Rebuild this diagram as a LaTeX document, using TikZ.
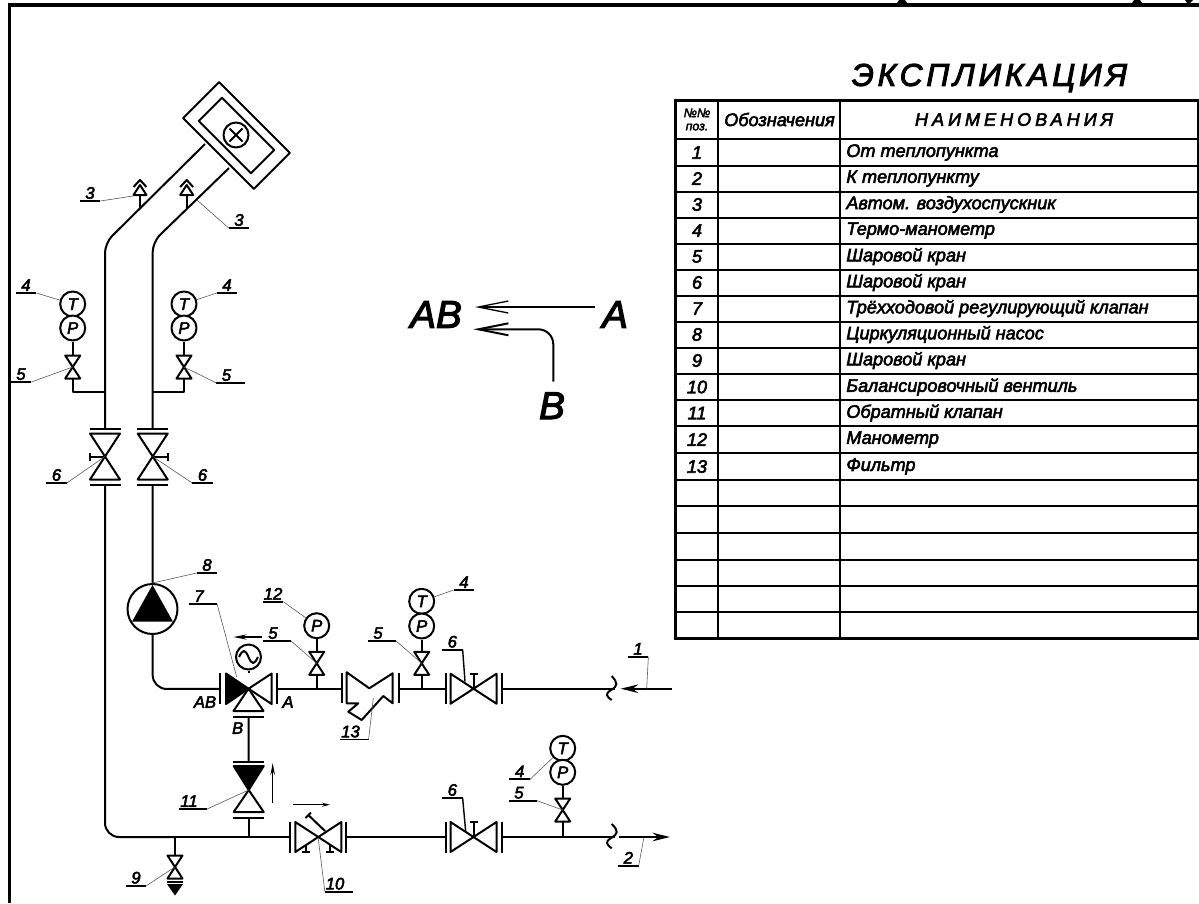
\documentclass[tikz,border=0pt]{standalone}
\usepackage{fontspec}
\setmainfont{Liberation Sans}[ItalicFeatures={FakeBold=3}]
\usetikzlibrary{arrows.meta}
\tikzset{
	flanged/.pic={
		\fill[white] (-28,-15) rectangle (28,15);
		\draw[pipe] (-28,-15.5) -- (-28,15.5) (28,-15.5) -- (28,15.5);
		\draw[pipe] (-23,-15) -- (23,15) -- (23,-15) -- (-23,15) -- cycle;
	},
	spindle/.pic={
		\draw[pipe] (0,0) -- (0,-15) (-4,-15) -- (4,-15);
	},
	shutoff/.pic={
		\fill[white] (-7.5,-11.5) rectangle (7.5,11.5);
		\draw[pipe] (-7.5,-11.5) -- (7.5,11.5) -- (-7.5,11.5) -- (7.5,-11.5) -- cycle;
	},
	vent/.pic={
		\draw[pipe,fill=white] (-6.5,0) -- (0,-10) -- (6.5,0) -- cycle;
		\draw[pipe] (-6.5,-8) -- (0,-15) -- (6.5,-8);
	}
}
\begin{document}
\begin{tikzpicture}[x=0.02cm,y=-0.02cm]
	\tikzstyle{pipe}=[line width=0.04cm,line join=round]
	\tikzstyle{thinpipe}=[line width=0.028cm]
	\tikzstyle{leader}=[line width=0.012cm,black!65]
	\tikzstyle{gauge}=[circle,draw=black,pipe,fill=white,minimum size=0.5cm,inner sep=0pt,font=\fontsize{9.5}{9.5}\selectfont\itshape]
	\tikzstyle{tag}=[anchor=south,minimum width=0.4cm,inner xsep=0pt,inner ysep=0.035cm,font=\fontsize{9.5}{9.5}\selectfont\itshape,append after command={(\tikzlastnode.south west) edge[pipe,line width=0.035cm] (\tikzlastnode.south east)}]
	\tikzstyle{longtag}=[tag,minimum width=0.55cm,execute at end node={\hspace{0.16cm}}]
	\tikzstyle{cellname}=[anchor=west,inner sep=0pt,font=\fontsize{10.3}{10.3}\selectfont\itshape]
	\tikzstyle{cellpos}=[inner sep=0pt,font=\fontsize{10.3}{10.3}\selectfont\itshape]
	\tikzstyle{tblline}=[line width=0.04cm]
	\tikzstyle{portname}=[inner sep=0pt,font=\fontsize{22}{22}\selectfont\itshape]
	\tikzstyle{portsmall}=[inner sep=0pt,font=\fontsize{9.5}{9.5}\selectfont\itshape]

	\useasboundingbox (0,0) rectangle (1199,903);
	\draw[line width=0.08cm] (9.5,903) -- (9.5,5) -- (1199,5);
	% remains of the cut off heading
	\fill (897,3) -- (899,0) -- (905,0) -- (907,3) -- cycle;
	\fill (1132,3) -- (1134,0) -- (1140,0) -- (1142,3) -- cycle;
	\fill (1185,0) -- (1193,0) -- (1190,3) -- (1187,3) -- cycle;

	% junctions of the pipes
	\coordinate (top1) at (205,144);
	\coordinate (top2) at (229,168);
	\coordinate (bend1) at (105,243);
	\coordinate (bend2) at (152.7,242);
	\coordinate (tee1) at (105,392);
	\coordinate (tee2) at (152.7,392);
	\coordinate (corner1) at (72.7,392);
	\coordinate (corner2) at (184,392);
	\coordinate (tee3) at (140,208);
	\coordinate (tee4) at (186.7,208);
	\coordinate (vent1) at (140,195);
	\coordinate (vent2) at (186.7,195);
	\coordinate (corner3) at (105,837);
	\coordinate (corner4) at (152.7,689);
	\coordinate (tee5) at (316.7,689);
	\coordinate (tee6) at (421.7,689);
	\coordinate (tee7) at (175,837);
	\coordinate (tee8) at (248.7,837);
	\coordinate (tee9) at (562.7,837);
	\coordinate (end1) at (615,688.7);
	\coordinate (end2) at (615,837);
	\coordinate (in1) at (671.7,688.7);
	\coordinate (in2) at (620.7,688.7);
	\coordinate (out1) at (619.3,837);
	\coordinate (out2) at (670,837);

	% fittings
	\coordinate (v6a) at (105,456.5);
	\coordinate (v6b) at (152.7,456.5);
	\coordinate (v6c) at (473.5,688.7);
	\coordinate (v6d) at (473.5,837);
	\coordinate (v5a) at (72.7,367);
	\coordinate (v5b) at (184,367);
	\coordinate (v5c) at (316.7,663.3);
	\coordinate (v5d) at (421.7,663.3);
	\coordinate (v5e) at (562.7,810);
	\coordinate (v9) at (175,867);
	\coordinate (v10) at (318.3,837);
	\coordinate (v11) at (248.7,790);
	\coordinate (v7) at (248.5,688.7);
	\coordinate (f13) at (370,688.7);

	% gauges
	\node[gauge] (t1) at (72.7,304) {T};
	\node[gauge] (p1) at (72.7,328) {P};
	\node[gauge] (t2) at (184,304) {T};
	\node[gauge] (p2) at (184,328) {P};
	\node[gauge] (t3) at (421.7,601.3) {T};
	\node[gauge] (p3) at (421.7,626) {P};
	\node[gauge] (t4) at (562.7,748.3) {T};
	\node[gauge] (p4) at (562.7,772.3) {P};
	\node[gauge] (p5) at (316.7,625.7) {P};
	\node[gauge] (drive) at (248.5,657) {};
	\node[circle,draw=black,pipe,fill=white,minimum size=1cm,inner sep=0pt] (pump) at (152.5,609) {};

	% pipes
	\draw[pipe,rounded corners=0.2cm] (top1) -- (bend1) -- (v6a);
	\draw[pipe,rounded corners=0.2cm] (top2) -- (bend2) -- (v6b);
	\draw[pipe,rounded corners=0.28cm] (v6a) -- (corner3) -- (tee7);
	\draw[pipe,rounded corners=0.28cm] (pump) -- (corner4) -- (v7);
	\path[pipe]
	(tee7) edge (v10)
	(v10) edge (v6d)
	(v6d) edge (end2)
	(v6b) edge (pump)
	(v7) edge (f13)
	(f13) edge (v6c)
	(v6c) edge (end1)
	(v7) edge (v11)
	(v11) edge (tee8)
	(tee3) edge (vent1)
	(tee4) edge (vent2)
	;
	\draw[pipe] (p1) -- (corner1) -- (tee1);
	\draw[pipe] (p2) -- (corner2) -- (tee2);
	\path[pipe]
	(p5) edge (tee5)
	(p3) edge (tee6)
	(p4) edge (tee9)
	(drive) edge (v7)
	(tee7) edge (v9)
	;
	\draw[pipe,-{Stealth[length=0.35cm,width=0.17cm]}] (in1) -- (in2);
	\draw[pipe,-{Stealth[length=0.35cm,width=0.17cm]}] (out1) -- (out2);
	\draw[pipe] (611.7,676) .. controls (618,683) and (618,686) .. (611,690) .. controls (605,694) and (606,696) .. (611.7,700);
	\draw[pipe] (611.7,824) .. controls (619,831) and (618,834) .. (611,838) .. controls (605,842) and (606,844) .. (611.7,848.3);

	% valves
	\pic[rotate=90] at (v6a) {flanged};
	\pic[rotate=90] at (v6b) {flanged};
	\pic at (v6c) {flanged};
	\pic at (v6d) {flanged};
	\pic at (v10) {flanged};
	\pic[rotate=90] at (v6a) {spindle};
	\pic[rotate=-90] at (v6b) {spindle};
	\pic at (v6c) {spindle};
	\pic at (v6d) {spindle};
	\pic at (v5a) {shutoff};
	\pic at (v5b) {shutoff};
	\pic at (v5c) {shutoff};
	\pic at (v5d) {shutoff};
	\pic at (v5e) {shutoff};
	\pic at (v9) {shutoff};
	\pic at (vent1) {vent};
	\pic at (vent2) {vent};

	% balancing valve
	\draw[pipe] (325,831) -- (308.3,815) (305.5,818) -- (311,812.5);
	\draw[pipe] (306,845) -- (306,851.7) (302,851.7) -- (310,851.7);
	\draw[pipe] (330,845) -- (330,851.7) (326,851.7) -- (334,851.7);
	\draw[thinpipe,-{Stealth[length=0.16cm,width=0.08cm]}] (293.3,804.7) -- (330,804.7);

	% drain under 9
	\draw[pipe] (167,881.7) -- (183,881.7);
	\fill (167,884) -- (183,884) -- (175,895.5) -- cycle;

	% check valve 11
	\fill[white] (233,762) rectangle (264,818);
	\draw[pipe] (233,761.7) -- (264,761.7) (233,818) -- (264,818);
	\fill[draw=black,pipe] (233.7,766) -- (263.7,766) -- (248.7,790) -- cycle;
	\draw[pipe] (248.7,790) -- (263.7,812) -- (233.7,812) -- cycle;
	\draw[thinpipe,-{Stealth[length=0.24cm,width=0.09cm]}] (272.7,803) -- (272.7,763);

	% three way valve 7
	\fill[white] (220,673) rectangle (277,717);
	\draw[pipe] (220,673) -- (220,704) (276.7,673) -- (276.7,704) (233,716.7) -- (264,716.7);
	\fill[draw=black,pipe] (226,673.5) -- (248.5,688.7) -- (226,704) -- cycle;
	\draw[pipe] (271.7,673.5) -- (248.5,688.7) -- (271.7,704) -- cycle;
	\draw[pipe] (233.5,711) -- (248.5,688.7) -- (263.5,711) -- cycle;
	\draw[pipe] (239,657) .. controls (243,649) and (245,649) .. (248.5,657) .. controls (252,665) and (254,665) .. (258,657);
	\draw[pipe,-{Stealth[length=0.26cm,width=0.1cm]}] (261.7,637) -- (233.3,637);
	\node[portsmall] (portab) at (205,702) {AB};
	\node[portsmall] (porta) at (288,702) {A};
	\node[portsmall] (portb) at (237.7,728) {B};

	% pump
	\fill (152.5,585) -- (173,621.7) -- (132,621.7) -- cycle;

	% filter 13
	\fill[white] (342,672) rectangle (399,721);
	\draw[pipe] (341.7,673) -- (341.7,703) (399.3,673) -- (399.3,703);
	\draw[pipe] (346.7,672.3) -- (369.3,688.3) -- (392.7,673.3) -- (392.7,703.3) -- (383.3,696) -- (361.7,720) -- (348.3,711.7) -- (358.3,703.3) -- (346.7,703.3) -- cycle;

	% meter at the top
	\node[draw=black,pipe,fill=white,rotate=-45,minimum width=2cm,minimum height=1.02cm] (panel) at (236.5,135.5) {};
	\node[draw=black,pipe,rotate=-45,minimum width=1.48cm,minimum height=0.66cm] (screen) at (236.5,135.5) {};
	\node[circle,draw=black,pipe,minimum size=0.5cm] (meter) at (236,135) {};
	\draw[pipe] (229.5,128.5) -- (242.5,141.5) (229.5,141.5) -- (242.5,128.5);

	% position tags
	\node[tag] (tag3a) at (90,201) {3};
	\node[tag] (tag3b) at (239,228) {3};
	\node[tag] (tag4a) at (26,293) {4};
	\node[tag] (tag4b) at (227,293) {4};
	\node[tag] (tag5a) at (21,382) {5};
	\node[longtag] (tag5b) at (230.5,383) {5};
	\node[tag] (tag6a) at (56.5,483) {6};
	\node[tag] (tag6b) at (202.5,483) {6};
	\node[tag] (tag8) at (207,573) {8};
	\node[longtag] (tag7) at (203,604) {7};
	\node[tag] (tag12) at (273,601.7) {12};
	\node[longtag] (tag5c) at (277,641) {5};
	\node[longtag] (tag5d) at (382,641) {5};
	\node[tag] (tag4c) at (464,590) {4};
	\node[tag] (tag6c) at (452.3,649.7) {6};
	\node[tag] (tag1) at (638,656.7) {1};
	\node[longtag] (tag13) at (354.5,739.5) {13};
	\node[longtag] (tag11) at (193,809) {11};
	\node[tag] (tag9) at (136,885.7) {9};
	\node[longtag] (tag10) at (339,891.7) {10};
	\node[tag] (tag6d) at (452.3,798) {6};
	\node[tag] (tag4d) at (519.7,779.3) {4};
	\node[longtag] (tag5e) at (523,800.7) {5};
	\node[tag] (tag2) at (628.3,865.7) {2};

	\coordinate (aim3a) at (133,196);
	\coordinate (aim3b) at (197,200);
	\coordinate (aim7) at (236.7,677);
	\coordinate (aim13) at (373.3,698);
	\coordinate (aim10) at (318.3,839);
	\coordinate (aim6c) at (465,681.7);
	\coordinate (aim6d) at (465.7,831.7);
	\coordinate (aim1) at (646.7,688.7);
	\coordinate (aim2) at (644,837);
	\path[leader]
	(tag3a.south east) edge (aim3a)
	(tag3b.south west) edge (aim3b)
	(tag4a.south east) edge (t1)
	(tag4b.south west) edge (t2)
	(tag5a.south east) edge (v5a)
	(tag5b.south west) edge (v5b)
	(tag6a.south east) edge (v6a)
	(tag6b.south west) edge (v6b)
	(tag8.south west) edge (pump.north)
	(tag7.south east) edge (aim7)
	(tag12.south east) edge (p5)
	(tag5c.south east) edge (v5c)
	(tag5d.south east) edge (v5d)
	(tag4c.south west) edge (t3)
	(tag1.south east) edge (aim1)
	(tag13.south east) edge (aim13)
	(tag11.south east) edge (v11)
	(tag9.south east) edge (v9)
	(tag10.south west) edge (aim10)
	(tag4d.south east) edge (t4)
	(tag5e.south east) edge (v5e)
	(tag2.south east) edge (aim2)
	;
	\path[thinpipe]
	(tag6c.south east) edge (aim6c)
	(tag6d.south east) edge (aim6d)
	;

	% mixing scheme
	\node[portname] (schemeab) at (436,314.5) {AB};
	\node[portname] (schemea) at (615,314.5) {A};
	\node[portname] (schemeb) at (552,405.7) {B};
	\coordinate (cross) at (553.3,329.3);
	\coordinate (tipa) at (475,307);
	\coordinate (tipb) at (473.3,329.3);
	\coordinate (starta) at (595,307);
	\coordinate (startb) at (553.3,381.7);
	\draw[line width=0.026cm,-{Straight Barb[length=0.6cm,width=0.24cm]}] (starta) -- (tipa);
	\draw[line width=0.04cm,rounded corners=0.3cm,-{Straight Barb[length=0.6cm,width=0.24cm]}] (startb) -- (cross) -- (tipb);

	% table
	\node[inner sep=0pt,font=\fontsize{18}{18}\selectfont\itshape\addfontfeature{LetterSpace=12}] (title) at (989.5,78) {ЭКСПЛИКАЦИЯ};
	\draw[line width=0.06cm] (675,100) rectangle (1198,638);
	\draw[tblline] (718,100) -- (718,638) (840,100) -- (840,638);
	\draw[tblline] (675,139) -- (1198,139) (675,165.5) -- (1198,165.5) (675,191.5) -- (1198,191.5)
	(675,217.5) -- (1198,217.5) (675,243.5) -- (1198,243.5) (675,269.5) -- (1198,269.5)
	(675,295.5) -- (1198,295.5) (675,321.5) -- (1198,321.5) (675,347.5) -- (1198,347.5)
	(675,373.5) -- (1198,373.5) (675,400) -- (1198,400) (675,426) -- (1198,426)
	(675,453) -- (1198,453) (675,480) -- (1198,480) (675,506) -- (1198,506)
	(675,533) -- (1198,533) (675,559.5) -- (1198,559.5) (675,586) -- (1198,586) (675,612) -- (1198,612);
	\node[align=center,inner sep=0pt,font=\fontsize{7}{7.5}\selectfont\itshape] (headpos) at (697,119.5) {№№\\поз.};
	\node[inner sep=0pt,font=\fontsize{10.3}{10.3}\selectfont\itshape] (headsign) at (779.5,119.5) {Обозначения};
	\node[inner sep=0pt,font=\fontsize{10.3}{10.3}\selectfont\itshape\addfontfeature{LetterSpace=22}] (headname) at (1014,119.5) {НАИМЕНОВАНИЯ};

	\node[cellpos] (pos1) at (697,152.5) {1};
	\node[cellpos] (pos2) at (697,178.5) {2};
	\node[cellpos] (pos3) at (697,204.5) {3};
	\node[cellpos] (pos4) at (697,230.5) {4};
	\node[cellpos] (pos5) at (697,256.5) {5};
	\node[cellpos] (pos6) at (697,282.5) {6};
	\node[cellpos] (pos7) at (697,308.5) {7};
	\node[cellpos] (pos8) at (697,334.5) {8};
	\node[cellpos] (pos9) at (697,360.5) {9};
	\node[cellpos] (pos10) at (697,387) {10};
	\node[cellpos] (pos11) at (697,413) {11};
	\node[cellpos] (pos12) at (697,439.5) {12};
	\node[cellpos] (pos13) at (697,466.5) {13};
	\node[cellname] (name1) at (846,152.5) {От теплопункта};
	\node[cellname] (name2) at (846,178.5) {К теплопункту};
	\node[cellname] (name3) at (846,204.5) {Автом. воздухоспускник};
	\node[cellname] (name4) at (846,230.5) {Термо-манометр};
	\node[cellname] (name5) at (846,256.5) {Шаровой кран};
	\node[cellname] (name6) at (846,282.5) {Шаровой кран};
	\node[cellname] (name7) at (846,308.5) {Трёхходовой регулирующий клапан};
	\node[cellname] (name8) at (846,334.5) {Циркуляционный насос};
	\node[cellname] (name9) at (846,360.5) {Шаровой кран};
	\node[cellname] (name10) at (846,387) {Балансировочный вентиль};
	\node[cellname] (name11) at (846,413) {Обратный клапан};
	\node[cellname] (name12) at (846,439.5) {Манометр};
	\node[cellname] (name13) at (846,466.5) {Фильтр};
\end{tikzpicture}
\end{document}
